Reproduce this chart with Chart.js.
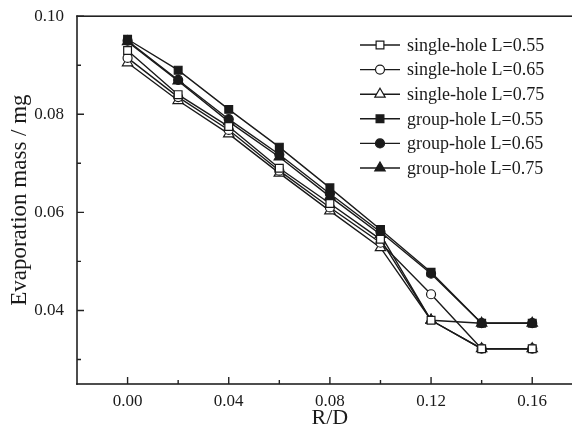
<!DOCTYPE html>
<html>
<head>
<meta charset="utf-8">
<script src="https://cdn.jsdelivr.net/npm/chart.js@4"></script>
<style>
html,body{margin:0;padding:0;background:#fff;overflow:hidden;}
canvas{display:block;}
</style>
</head>
<body>
<canvas id="c" width="590" height="433" style="width:590px;height:433px"></canvas>
<script>
// ---- data ----
const rd = [0, 0.02, 0.04, 0.06, 0.08, 0.10, 0.12, 0.14, 0.16];
const singleL055 = [0.0930, 0.0840, 0.0775, 0.0690, 0.0618, 0.0545, 0.0380, 0.0322, 0.0322];
const singleL065 = [0.0915, 0.0835, 0.0768, 0.0685, 0.0610, 0.0538, 0.0433, 0.0322, 0.0322];
const singleL075 = [0.0905, 0.0828, 0.0760, 0.0680, 0.0603, 0.0528, 0.0380, 0.0322, 0.0322];
const groupL055 = [0.0953, 0.0890, 0.0810, 0.0733, 0.0650, 0.0565, 0.0478, 0.0374, 0.0374];
const groupL065 = [0.0950, 0.0870, 0.0790, 0.0718, 0.0638, 0.0560, 0.0475, 0.0374, 0.0374];
const groupL075 = [0.0948, 0.0868, 0.0785, 0.0713, 0.0632, 0.0555, 0.0380, 0.0374, 0.0374];
const seriesLabels = ['single-hole L=0.55','single-hole L=0.65','single-hole L=0.75','group-hole L=0.55','group-hole L=0.65','group-hole L=0.75'];
const xMajorTicks = [0, 0.04, 0.08, 0.12, 0.16];
const xMinorTicks = [0.02, 0.06, 0.10, 0.14];
const yMajorTicks = [0.04, 0.06, 0.08, 0.10];
const yMinorTicks = [0.03, 0.05, 0.07, 0.09];

const serif = "'Liberation Serif', 'DejaVu Serif', serif";
const ink = '#1a1a1a';

function mk(label, vals, style, filled, radius) {
  return {
    label: label,
    data: rd.map((x, i) => ({x: x, y: vals[i]})),
    borderColor: ink,
    borderWidth: 1.4,
    pointStyle: style,
    pointRadius: radius,
    pointHoverRadius: radius,
    pointBorderWidth: 1.2,
    pointBorderColor: ink,
    pointBackgroundColor: filled ? ink : '#fff',
    tension: 0,
    fill: false
  };
}

const datasets = [
  mk(seriesLabels[0], singleL055, 'rect', false, 5.5),
  mk(seriesLabels[1], singleL065, 'circle', false, 4.5),
  mk(seriesLabels[2], singleL075, 'triangle', false, 6),
  mk(seriesLabels[3], groupL055, 'rect', true, 5.5),
  mk(seriesLabels[4], groupL065, 'circle', true, 4.5),
  mk(seriesLabels[5], groupL075, 'triangle', true, 6)
];

const frame = {
  id: 'frame',
  afterDraw(chart) {
    const ctx = chart.ctx, a = chart.chartArea;
    const xs = chart.scales.x, ys = chart.scales.y;
    ctx.save();
    ctx.fillStyle = '#222';
    ctx.fillRect(a.left - 0.8, a.top - 0.8, 1.6, a.bottom - a.top + 1.6);
    ctx.fillRect(a.left - 0.8, a.top - 0.8, 700, 1.6);
    ctx.fillRect(a.left - 0.8, a.bottom - 0.8, 700, 1.6);
    ctx.strokeStyle = '#222';
    ctx.lineWidth = 1.4;
    ctx.beginPath();
    xMajorTicks.forEach(v => { const p = xs.getPixelForValue(v); ctx.moveTo(p, a.bottom); ctx.lineTo(p, a.bottom - 7); });
    xMinorTicks.forEach(v => { const p = xs.getPixelForValue(v); ctx.moveTo(p, a.bottom); ctx.lineTo(p, a.bottom - 4); });
    yMajorTicks.forEach(v => { const p = ys.getPixelForValue(v); ctx.moveTo(a.left, p); ctx.lineTo(a.left + 7, p); });
    yMinorTicks.forEach(v => { const p = ys.getPixelForValue(v); ctx.moveTo(a.left, p); ctx.lineTo(a.left + 4, p); });
    ctx.stroke();

    // legend
    const x0 = 360, x1 = 400, tx = 407, y0 = 45, dy = 24.6;
    chart.data.datasets.forEach((ds, i) => {
      const y = y0 + i * dy;
      ctx.strokeStyle = ink; ctx.lineWidth = 1.4;
      ctx.beginPath(); ctx.moveTo(x0, y); ctx.lineTo(x1, y); ctx.stroke();
      ctx.fillStyle = ds.pointBackgroundColor;
      ctx.strokeStyle = ink; ctx.lineWidth = 1.2;
      Chart.helpers.drawPoint(ctx, {pointStyle: ds.pointStyle, rotation: 0, borderWidth: 1.2, radius: ds.pointRadius}, (x0 + x1) / 2, y);
      ctx.fillStyle = ink;
      ctx.font = '18px ' + serif;
      ctx.textAlign = 'left'; ctx.textBaseline = 'middle';
      ctx.fillText(ds.label, tx, y + 1);
    });
    ctx.restore();
  }
};

new Chart(document.getElementById('c'), {
  type: 'line',
  data: { datasets: datasets },
  plugins: [frame],
  options: {
    responsive: false,
    animation: false,
    events: [],
    layout: { padding: { left: 0, right: 0, top: 0, bottom: 0 } },
    plugins: { legend: { display: false }, tooltip: { enabled: false } },
    scales: {
      x: {
        type: 'linear',
        min: -0.02, max: 0.18,
        afterBuildTicks: s => { s.ticks = xMajorTicks.map(v => ({value: v})); },
        afterFit: s => { s.height = 49; },
        grid: { display: false, drawTicks: false },
        border: { display: false },
        ticks: { color: ink, font: { family: serif, size: 17 }, padding: 7, maxRotation: 0,
                 callback: v => Number(v).toFixed(2) },
        title: { display: true, text: 'R/D', color: ink, font: { family: serif, size: 22 }, padding: { top: 0, bottom: 2 } }
      },
      y: {
        type: 'linear',
        min: 0.025, max: 0.10,
        afterBuildTicks: s => { s.ticks = yMajorTicks.map(v => ({value: v})); },
        afterFit: s => { s.width = 77; },
        grid: { display: false, drawTicks: true, tickLength: 7 },
        border: { display: false },
        ticks: { color: ink, font: { family: serif, size: 17 }, padding: 6,
                 callback: v => Number(v).toFixed(2) },
        title: { display: true, text: 'Evaporation mass / mg', color: ink, font: { family: serif, size: 23 }, padding: { top: 6, bottom: 0 } }
      }
    }
  }
});
</script>
</body>
</html>
